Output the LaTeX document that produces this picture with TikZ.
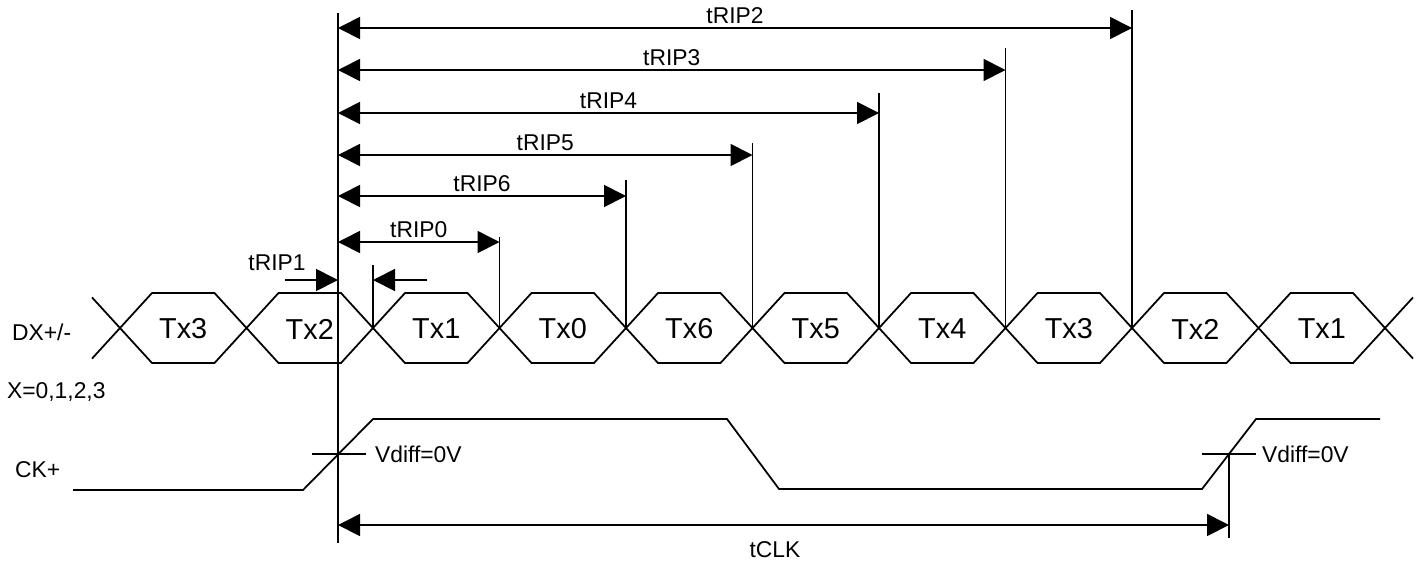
\documentclass[tikz,border=0pt]{standalone}
\usepackage{fontspec}
\setmainfont{Liberation Sans}
\usepackage{tikz}
\usetikzlibrary{arrows.meta,calc}
\tikzset{sig/.style={line width=1pt},dimarr/.style={{Triangle[length=0.44cm,width=0.44cm]}-{Triangle[length=0.44cm,width=0.44cm]},line width=1pt},onearr/.style={-{Triangle[length=0.44cm,width=0.44cm]},line width=1pt},lbl/.style={font=\fontsize{13}{15}\selectfont,inner sep=1pt}}

\begin{document}
\begin{tikzpicture}[x=0.02cm,y=-0.02cm,cell/.style={font=\fontsize{16.4}{19}\selectfont,inner sep=1pt}]
\useasboundingbox (0,0) rectangle (1425,562);
\foreach \k in {0,...,10}{\coordinate (c\k) at ({120+126.5*\k},328);}
\foreach \k/\n/\txt in {0/1/Tx3,1/2/Tx2,2/3/Tx1,3/4/Tx0,4/5/Tx6,5/6/Tx5,6/7/Tx4,7/8/Tx3,8/9/Tx2,9/10/Tx1}{\draw[sig] (c\k)--++(32,-35)--($(c\n)+(-32,-35)$)--(c\n)--($(c\n)+(-32,35)$)--($(c\k)+(32,35)$)--cycle;\node[cell] (tx\k) at ($(c\k)!.5!(c\n)+(0,1)$) {\txt};}
\draw[sig] (c0)--++(-28,-30.6) (c0)--++(-28,30.6) (c10)--++(28,-30.6) (c10)--++(28,30.6);
\coordinate (rtop) at (338,13);
\coordinate (rbot) at (338,543);
\draw[sig] (rtop)--(rbot);
\foreach \k/\y/\yt/\t in {3/242/237/tRIP0,4/196/180/tRIP6,5/155/143/tRIP5,6/113/93/tRIP4,7/70/48/tRIP3,8/28/10/tRIP2}{\draw[sig] (c\k)--(c\k |- 0,\yt);\draw[dimarr] (rtop |- 0,\y)--node[lbl,above=1pt]{\t}(c\k |- 0,\y);}
\coordinate (p1) at (285,280);
\coordinate (p2) at (427,280);
\draw[onearr] (p1)--(rtop |- p1);
\node[lbl] (trip1) at (277,263) {tRIP1};
\draw[sig] (c2)--(c2 |- 0,265);
\draw[onearr] (p2)--(c2 |- p2);
\node[lbl,anchor=west] (dx) at (10,332) {DX+/-};
\node[lbl,anchor=west] (xsel) at (5,392) {X=0,1,2,3};
\node[lbl,anchor=west] (ck) at (13,470) {CK+};
\draw[sig] (73,490)--(303,490)--(373,419)--(727,419)--(779,489)--(1202,489)--(1256,419)--(1380,419);
\coordinate (x1) at (338,454);
\coordinate (x2) at (1229,454);
\draw[sig] ($(x1)+(-26,0)$)--($(x1)+(28,0)$);
\node[lbl,anchor=west] (vd1) at ($(x1)+(35,0)$) {Vdiff=0V};
\draw[sig] ($(x2)+(-27,0)$)--($(x2)+(27,0)$);
\node[lbl,anchor=west] (vd2) at ($(x2)+(31,0)$) {Vdiff=0V};
\draw[sig] (x2)--++(0,84);
\draw[dimarr] (rtop |- 0,525)--(x2 |- 0,525);
\node[lbl] (tclk) at (775,550) {tCLK};
\end{tikzpicture}
\end{document}
